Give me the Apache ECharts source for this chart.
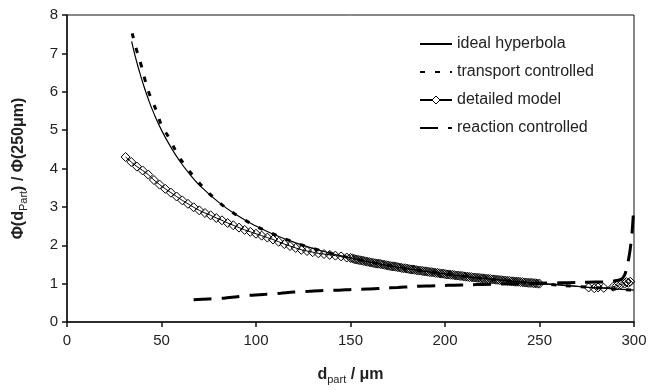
<!DOCTYPE html>
<html>
<head>
<meta charset="utf-8">
<script src="https://cdn.jsdelivr.net/npm/echarts@6/dist/echarts.min.js"></script>
<style>
  html, body { margin: 0; padding: 0; background: #fff; }
  #chart { width: 651px; height: 390px; }
</style>
</head>
<body>
<div id="chart"></div>
<script>
// values
const xTicks = [0, 50, 100, 150, 200, 250, 300]
const yTicks = [0, 1, 2, 3, 4, 5, 6, 7, 8]

const idealX = [34.2, 36, 38, 40, 43, 46, 50, 55, 60, 65, 70, 80, 90, 100, 110, 120, 135, 150, 170, 190, 210, 230, 250, 275, 300]
const idealY = [7.31, 6.94, 6.58, 6.25, 5.81, 5.43, 5.0, 4.55, 4.17, 3.85, 3.57, 3.13, 2.78, 2.5, 2.27, 2.08, 1.85, 1.67, 1.47, 1.32, 1.19, 1.09, 1.0, 0.91, 0.83]

const transportX = [34.5, 36.8, 39.2, 41.4, 43.9, 47.1, 50.1, 54, 58, 62.4, 67.7, 73, 79.3, 85.7, 93, 100, 107.4, 120, 135, 150, 170, 190, 210, 230, 250, 275, 300]
const transportY = [7.52, 7.09, 6.70, 6.29, 5.90, 5.53, 5.12, 4.80, 4.42, 4.08, 3.76, 3.46, 3.17, 2.92, 2.69, 2.50, 2.33, 2.08, 1.85, 1.67, 1.47, 1.32, 1.19, 1.09, 1.00, 0.91, 0.83]

const detailedX = [31, 34, 37, 40, 43, 46, 49, 52, 55, 58, 61, 64, 67, 70, 73, 76, 79, 82, 85, 88,
  91, 94, 97, 100, 103, 106, 109, 112, 115, 118, 121, 124, 127, 130, 133, 136, 139, 142, 145, 148,
  150, 151, 152, 153, 154, 155, 156, 157, 158, 159, 160, 161, 162, 163, 164, 165, 166, 167, 168, 169,
  170, 171, 172, 173, 174, 175, 176, 177, 178, 179, 180, 181, 182, 183, 184, 185, 186, 187, 188, 189,
  190, 191, 192, 193, 194, 195, 196, 197, 198, 199, 200, 201, 202, 203, 204, 205, 206, 207, 208, 209,
  210, 211, 212, 213, 214, 215, 216, 217, 218, 219, 220, 221, 222, 223, 224, 225, 226, 227, 228, 229,
  230, 231, 232, 233, 234, 235, 236, 237, 238, 239, 240, 241, 242, 243, 244, 245, 246, 247, 248, 249, 250,
  276, 279, 281, 284, 289, 291, 293, 295, 296, 297, 298]
const detailedY = [4.30, 4.17, 4.05, 3.95, 3.84, 3.70, 3.58, 3.47, 3.37, 3.27, 3.17, 3.08, 2.99, 2.91, 2.84, 2.78, 2.71, 2.65, 2.58, 2.52,
  2.46, 2.40, 2.35, 2.30, 2.25, 2.20, 2.15, 2.09, 2.03, 1.98, 1.93, 1.88, 1.85, 1.82, 1.79, 1.77, 1.75, 1.73, 1.71, 1.68,
  1.67, 1.66, 1.64, 1.63, 1.62, 1.61, 1.60, 1.59, 1.58, 1.57, 1.56, 1.55, 1.54, 1.53, 1.52, 1.52, 1.51, 1.50, 1.49, 1.48,
  1.47, 1.46, 1.45, 1.45, 1.44, 1.43, 1.42, 1.41, 1.40, 1.40, 1.39, 1.38, 1.37, 1.37, 1.36, 1.35, 1.34, 1.34, 1.33, 1.32,
  1.32, 1.31, 1.30, 1.30, 1.29, 1.28, 1.28, 1.27, 1.26, 1.26, 1.25, 1.24, 1.24, 1.23, 1.23, 1.22, 1.21, 1.21, 1.20, 1.20,
  1.19, 1.18, 1.18, 1.17, 1.17, 1.16, 1.16, 1.15, 1.15, 1.14, 1.14, 1.13, 1.13, 1.12, 1.12, 1.11, 1.11, 1.10, 1.10, 1.09,
  1.09, 1.08, 1.08, 1.07, 1.07, 1.06, 1.06, 1.05, 1.05, 1.05, 1.04, 1.04, 1.03, 1.03, 1.02, 1.02, 1.02, 1.01, 1.01, 1.00, 1.00,
  0.90, 0.88, 0.90, 0.89, 0.92, 0.95, 0.98, 1.00, 1.04, 1.02, 1.05]

const reactionX = [67, 75, 83, 90, 98, 105, 113, 120, 128, 136, 144, 151, 159, 167, 175, 182, 190, 198, 205, 213, 220, 230, 240, 250, 260, 270, 280, 287, 291, 293.5, 295, 296, 297, 298, 299, 299.7]
const reactionY = [0.58, 0.60, 0.62, 0.66, 0.70, 0.72, 0.75, 0.78, 0.80, 0.82, 0.83, 0.85, 0.86, 0.88, 0.90, 0.92, 0.94, 0.95, 0.96, 0.97, 0.98, 0.99, 1.00, 1.01, 1.02, 1.03, 1.04, 1.05, 1.08, 1.12, 1.22, 1.38, 1.60, 1.90, 2.35, 2.85]

const pairs = (xs, ys) => xs.map((x, i) => [x, ys[i]])

const FONT = 'Liberation Sans'
const chart = echarts.init(document.getElementById('chart'))

// hide the dot that ECharts adds to line-only legend icons
const noDot = { opacity: 0 }

const titleRich = {
  b: { fontSize: 16, fontWeight: 'bold', color: '#222', fontFamily: FONT, lineHeight: 20 },
  s: { fontSize: 11, color: '#222', fontFamily: FONT, verticalAlign: 'bottom', lineHeight: 12 }
}

const option = {
  animation: false,
  textStyle: { fontFamily: FONT },
  grid: {
    left: 67, right: 17, top: 15, bottom: 67,
    show: true,
    borderColor: '#111',
    borderWidth: 1
  },
  legend: {
    orient: 'vertical',
    left: 419,
    top: 36,
    padding: 0,
    itemWidth: 32,
    itemHeight: 10,
    itemGap: 12,
    textStyle: { fontSize: 16, color: '#222', lineHeight: 16 },
    data: [
      { name: 'ideal hyperbola', itemStyle: noDot },
      { name: 'transport controlled', itemStyle: noDot },
      { name: 'detailed model', itemStyle: { color: '#fff', borderColor: '#000', borderWidth: 1 } },
      { name: 'reaction controlled', itemStyle: noDot }
    ]
  },
  xAxis: {
    type: 'value',
    min: xTicks[0],
    max: xTicks[xTicks.length - 1],
    interval: 50,
    name: '{b|d}{s|part}{b| / μm}',
    nameLocation: 'middle',
    nameGap: 43,
    nameTextStyle: { rich: titleRich },
    axisLine: { lineStyle: { color: '#111', width: 1.5 } },
    axisTick: { length: 5, lineStyle: { color: '#111', width: 1.5 } },
    axisLabel: { fontSize: 15, color: '#222', margin: 11 },
    splitLine: { show: false }
  },
  yAxis: {
    type: 'value',
    min: yTicks[0],
    max: yTicks[yTicks.length - 1],
    interval: 1,
    name: '{b|Φ(d}{s|Part}{b|) / Φ(250μm)}',
    nameLocation: 'middle',
    nameRotate: 90,
    nameGap: 38,
    nameTextStyle: { rich: titleRich },
    axisLine: { show: true, lineStyle: { color: '#111', width: 1.5 } },
    axisTick: { show: true, length: 5, lineStyle: { color: '#111', width: 1.5 } },
    axisLabel: { fontSize: 15, color: '#222', margin: 9 },
    splitLine: { show: false }
  },
  series: [
    {
      name: 'ideal hyperbola',
      type: 'line',
      smooth: true,
      symbol: 'none',
      lineStyle: { color: '#000', width: 1.2 },
      itemStyle: { color: '#000' },
      data: pairs(idealX, idealY)
    },
    {
      name: 'transport controlled',
      type: 'line',
      smooth: true,
      symbol: 'none',
      lineStyle: { color: '#000', width: 3, type: [5, 10] },
      itemStyle: { color: '#000' },
      data: pairs(transportX, transportY)
    },
    {
      name: 'detailed model',
      type: 'line',
      smooth: 0.3,
      symbol: 'diamond',
      symbolSize: 9,
      lineStyle: { color: '#000', width: 1 },
      itemStyle: { color: 'rgba(255,255,255,0)', borderColor: '#000', borderWidth: 1 },
      data: pairs(detailedX, detailedY)
    },
    {
      name: 'reaction controlled',
      type: 'line',
      smooth: 0.3,
      symbol: 'none',
      lineStyle: { color: '#000', width: 3, type: [18, 10] },
      itemStyle: { color: '#000' },
      data: pairs(reactionX, reactionY)
    }
  ]
}

chart.setOption(option)
</script>
</body>
</html>
